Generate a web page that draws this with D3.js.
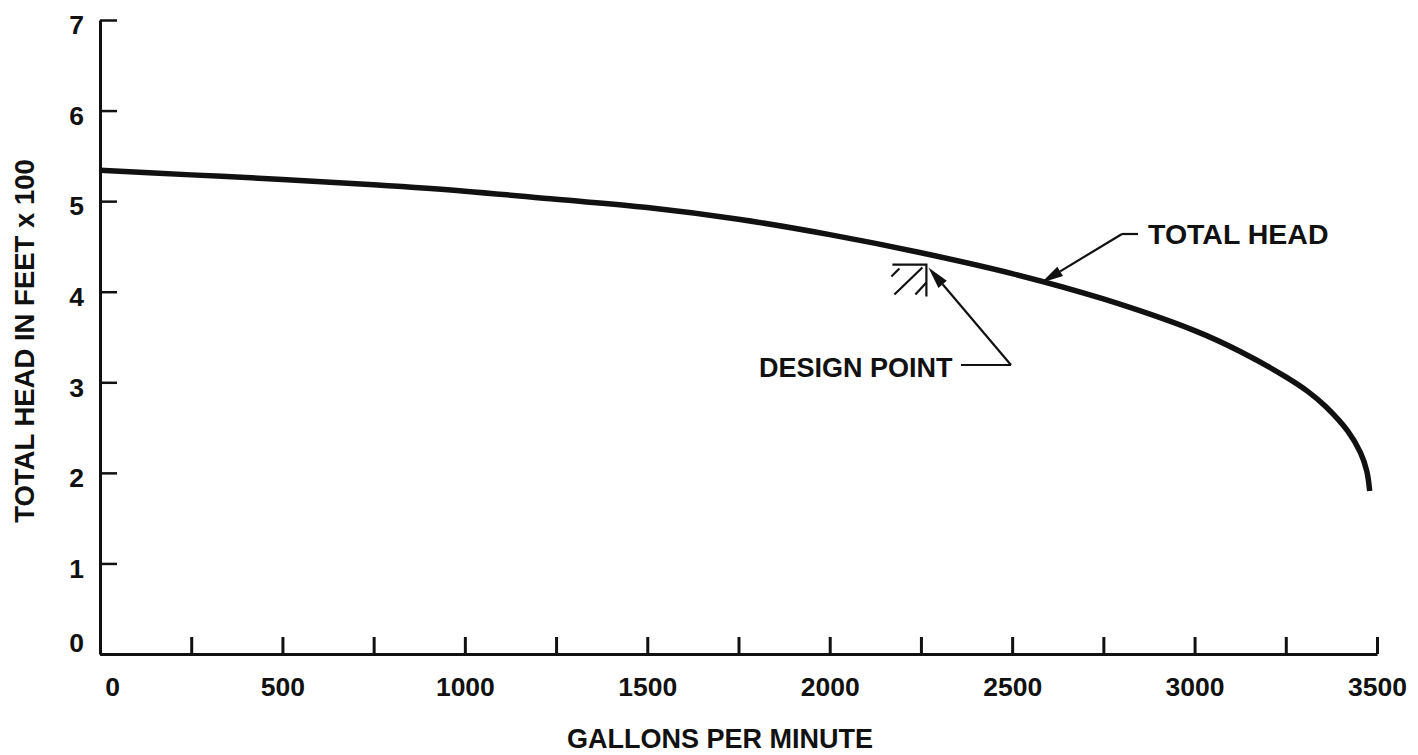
<!DOCTYPE html>
<html>
<head>
<meta charset="utf-8">
<script src="https://cdn.jsdelivr.net/npm/d3@7/dist/d3.min.js"></script>
<style>
  html, body { margin: 0; padding: 0; background: #fff; }
  svg { display: block; }
  text { font-family: "Liberation Sans", Arial, Helvetica, sans-serif; font-weight: bold; fill: #111; }
</style>
</head>
<body>
<svg id="chart" width="1418" height="755"></svg>
<script>
// Pump performance curve: flow (gallons per minute) vs total head (feet x 100)
const flowGpm = [0, 250, 500, 750, 1000, 1250, 1500, 1750, 2000, 2250, 2500, 2750, 3000, 3125, 3250, 3310, 3360, 3420, 3455, 3472, 3480];
const headHundredFt = [5.34, 5.29, 5.24, 5.18, 5.11, 5.02, 4.93, 4.80, 4.63, 4.43, 4.20, 3.92, 3.57, 3.34, 3.06, 2.90, 2.73, 2.46, 2.22, 2.02, 1.80];

// Rated operating point
const designGpm = [2265];
const designHead = [4.30];

const xTicks = [0, 250, 500, 750, 1000, 1250, 1500, 1750, 2000, 2250, 2500, 2750, 3000, 3250, 3500];
const xTickLabels = ["0", "", "500", "", "1000", "", "1500", "", "2000", "", "2500", "", "3000", "", "3500"];
const yTicks = [0, 1, 2, 3, 4, 5, 6, 7];

const svg = d3.select("#chart");
const ink = "#111";

const x = d3.scaleLinear().domain([0, 3500]).range([100, 1377]);
const y = d3.scaleLinear().domain([0, 7]).range([654, 20]);

// X axis: ticks point up into the plot
const xAxis = d3.axisBottom(x)
  .tickValues(xTicks)
  .tickFormat((d, i) => xTickLabels[i])
  .tickSizeInner(-17)
  .tickSizeOuter(0)
  .tickPadding(23);

const gx = svg.append("g").attr("transform", `translate(0,${y(0)})`).call(xAxis);
gx.select(".domain").attr("stroke", ink).attr("stroke-width", 3);
gx.selectAll(".tick line").attr("stroke", ink).attr("stroke-width", 3);
gx.selectAll(".tick text")
  .attr("font-size", 26.5)
  .attr("font-family", null)
  .attr("fill", ink)
  .attr("dx", d => d === 0 ? 12 : 0);

// Y axis: ticks point right into the plot
const yAxis = d3.axisLeft(y)
  .tickValues(yTicks)
  .tickFormat(d3.format("d"))
  .tickSizeInner(-17)
  .tickSizeOuter(0)
  .tickPadding(16);

const gy = svg.append("g").attr("transform", `translate(${x(0)},0)`).call(yAxis);
gy.select(".domain").attr("stroke", ink).attr("stroke-width", 3);
gy.selectAll(".tick line").attr("stroke", ink).attr("stroke-width", 2.5);
gy.selectAll(".tick text")
  .attr("font-size", 26.5)
  .attr("font-family", null)
  .attr("fill", ink)
  .attr("dy", d => d === 0 ? "-0.1em" : "0.52em");

// Axis titles
svg.append("text")
  .attr("x", 720).attr("y", 748)
  .attr("text-anchor", "middle")
  .attr("font-size", 27)
  .text("GALLONS PER MINUTE");

svg.append("text")
  .attr("transform", "translate(34,341) rotate(-90)")
  .attr("text-anchor", "middle")
  .attr("font-size", 27.5)
  .text("TOTAL HEAD IN FEET x 100");

// Head curve
const pts = flowGpm.map((g, i) => [g, headHundredFt[i]]);
const line = d3.line()
  .x(d => x(d[0]))
  .y(d => y(d[1]))
  .curve(d3.curveCatmullRom.alpha(0.5));

svg.append("path")
  .datum(pts)
  .attr("d", line)
  .attr("fill", "none")
  .attr("stroke", ink)
  .attr("stroke-width", 5.5)
  .attr("stroke-linecap", "butt");

// Design point: hatched corner mark
const dx0 = x(designGpm[0]);
const dy0 = y(designHead[0]);
const mark = svg.append("g")
  .attr("stroke", ink)
  .attr("stroke-width", 2.2)
  .attr("fill", "none");
mark.append("path").attr("d", `M${dx0 - 34},${dy0} H${dx0} V${dy0 + 32}`);
mark.append("path").attr("d", `M${dx0 - 32},${dy0 + 30} L${dx0 - 4},${dy0 + 3}`);
mark.append("path").attr("d", `M${dx0 - 27},${dy0 + 4} L${dx0 - 35},${dy0 + 12}`);
mark.append("path").attr("d", `M${dx0},${dy0 + 18} L${dx0 - 11},${dy0 + 30}`);

// Leader with filled arrowhead
function leader(points, tip) {
  svg.append("path")
    .attr("d", d3.line()(points))
    .attr("fill", "none")
    .attr("stroke", ink)
    .attr("stroke-width", 2.2);
  const prev = points[points.length - 1];
  const last = tip;
  const ang = Math.atan2(last[1] - prev[1], last[0] - prev[0]);
  const len = 22, half = 5.5;
  const bx = last[0] - len * Math.cos(ang), by = last[1] - len * Math.sin(ang);
  const px = -Math.sin(ang) * half, py = Math.cos(ang) * half;
  svg.append("path")
    .attr("d", `M${last[0]},${last[1]} L${bx + px},${by + py} L${bx - px},${by - py} Z`)
    .attr("fill", ink);
  svg.append("path")
    .attr("d", d3.line()([prev, [bx, by]]))
    .attr("stroke", ink)
    .attr("stroke-width", 2.2);
}

// "DESIGN POINT" label and arrow
svg.append("text")
  .attr("x", 759).attr("y", 377)
  .attr("font-size", 27)
  .text("DESIGN POINT");
leader([[961, 365], [1011, 365]], [dx0 + 2, dy0 + 3]);

// "TOTAL HEAD" label and arrow to the curve
const thG = 2580;
const thTip = [x(thG), y(d3.interpolateNumber(4.20, 3.92)((thG - 2500) / 250)) + 1];
svg.append("text")
  .attr("x", 1148).attr("y", 244)
  .attr("font-size", 28.5)
  .text("TOTAL HEAD");
leader([[1138, 234], [1122, 234]], thTip);
</script>
</body>
</html>
